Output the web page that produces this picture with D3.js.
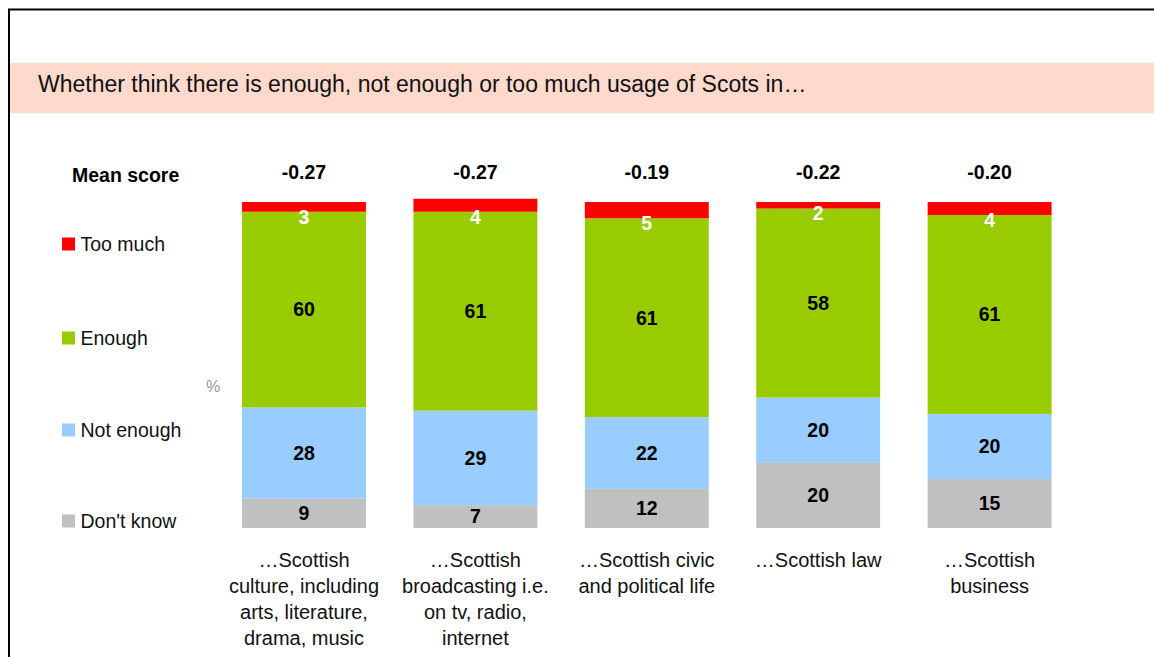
<!DOCTYPE html>
<html>
<head>
<meta charset="utf-8">
<script src="https://cdn.jsdelivr.net/npm/d3@7"></script>
<style>
  body { margin: 0; background: #fff; }
  svg text { font-family: Arial, "Liberation Sans", sans-serif; }
</style>
</head>
<body>
<div id="vis"></div>
<script>
// data
const categories = [
    ["…Scottish", "culture, including", "arts, literature,", "drama, music"],
    ["…Scottish", "broadcasting i.e.", "on tv, radio,", "internet"],
    ["…Scottish civic", "and political life"],
    ["…Scottish law"],
    ["…Scottish", "business"]
]
const catKeys = ["culture", "broadcasting", "civic", "law", "business"]
const meanScores = ["-0.27", "-0.27", "-0.19", "-0.22", "-0.20"]
const dontKnow = [9, 7, 12, 20, 15]
const notEnough = [28, 29, 22, 20, 20]
const enough = [60, 61, 61, 58, 61]
const tooMuch = [3, 4, 5, 2, 4]

const seriesNames = ["Don't know", "Not enough", "Enough", "Too much"]
const seriesColors = ["#c0c0c0", "#99ccff", "#99cc00", "#ff0000"]

const width = 1154, height = 657

let svg = d3.select("#vis").append("svg")
    .attr("width", width)
    .attr("height", height)

// frame + title band
svg.append("rect")
    .attr("x", 10).attr("y", 63)
    .attr("width", width - 10).attr("height", 50)
    .attr("fill", "#fed9cc")
svg.append("path")
    .attr("d", `M9,${height} V9.5 H${width}`)
    .attr("fill", "none")
    .attr("stroke", "#000")
    .attr("stroke-width", 2)

svg.append("text")
    .attr("x", 38).attr("y", 92)
    .style("font-size", "23px")
    .attr("fill", "#111")
    .text("Whether think there is enough, not enough or too much usage of Scots in…")

// scales
let x = d3.scaleBand()
    .domain(catKeys)
    .range([218.3, 1075.3])
    .paddingInner(0.277)
    .paddingOuter(0.1385)

let y = d3.scaleLinear()
    .domain([0, 100])
    .range([528, 202])

let rows = catKeys.map((k, i) => ({
    key: k,
    "Don't know": dontKnow[i],
    "Not enough": notEnough[i],
    "Enough": enough[i],
    "Too much": tooMuch[i]
}))

let stack = d3.stack().keys(seriesNames)(rows)

let g = svg.append("g")

stack.forEach((layer, li) => {
    g.selectAll(".bar" + li)
        .data(layer)
        .join("rect")
        .attr("class", "bar" + li)
        .attr("x", d => x(d.data.key))
        .attr("width", x.bandwidth())
        .attr("y", d => y(d[1]))
        .attr("height", d => y(d[0]) - y(d[1]))
        .attr("fill", seriesColors[li])

    g.selectAll(".lab" + li)
        .data(layer)
        .join("text")
        .attr("class", "lab" + li)
        .attr("x", d => x(d.data.key) + x.bandwidth() / 2)
        .attr("y", d => li === 3 ? y(d[0]) + 5 : (y(d[0]) + y(d[1])) / 2)
        .attr("dy", "0.35em")
        .attr("text-anchor", "middle")
        .style("font-size", "19.5px")
        .style("font-weight", "bold")
        .attr("fill", li === 3 ? "#fff" : "#000")
        .text(d => d[1] - d[0])
})

// mean scores
svg.append("text")
    .attr("x", 72).attr("y", 182)
    .style("font-size", "19.5px")
    .style("font-weight", "bold")
    .text("Mean score")

g.selectAll(".mean")
    .data(catKeys)
    .join("text")
    .attr("class", "mean")
    .attr("x", d => x(d) + x.bandwidth() / 2)
    .attr("y", 179)
    .attr("text-anchor", "middle")
    .style("font-size", "19.5px")
    .style("font-weight", "bold")
    .text((d, i) => meanScores[i])

// legend
const legendY = [521, 430, 338, 244]
let legend = svg.selectAll(".legend")
    .data(seriesNames)
    .join("g")
    .attr("class", "legend")
    .attr("transform", (d, i) => `translate(62,${legendY[i]})`)
legend.append("rect")
    .attr("x", 0).attr("y", -6.5)
    .attr("width", 13).attr("height", 13)
    .attr("fill", (d, i) => seriesColors[i])
legend.append("text")
    .attr("x", 18.5).attr("y", 0)
    .attr("dy", "0.35em")
    .style("font-size", "19.5px")
    .attr("fill", "#111")
    .text(d => d)

svg.append("text")
    .attr("x", 206).attr("y", 392)
    .style("font-size", "16px")
    .attr("fill", "#999")
    .text("%")

// category labels
let cat = g.selectAll(".cat")
    .data(catKeys)
    .join("text")
    .attr("class", "cat")
    .attr("text-anchor", "middle")
    .style("font-size", "20px")
    .attr("fill", "#111")
cat.selectAll("tspan")
    .data((d, i) => categories[i].map(t => ({ t, k: d })))
    .join("tspan")
    .attr("x", d => x(d.k) + x.bandwidth() / 2)
    .attr("y", (d, j) => 567 + j * 26)
    .text(d => d.t)
</script>
</body>
</html>
